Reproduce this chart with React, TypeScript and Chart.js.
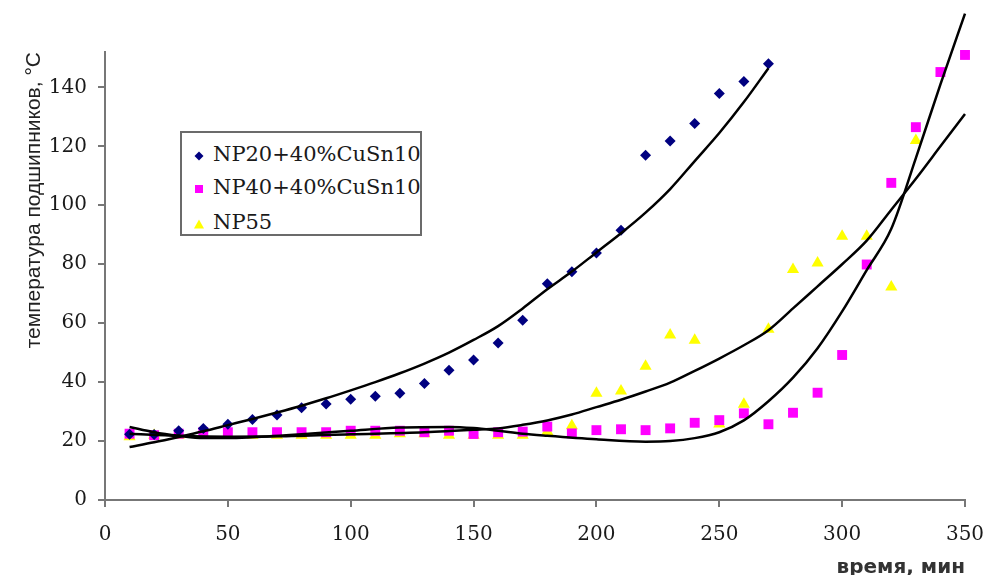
import React, { useEffect, useRef } from "react";
import { Chart, registerables } from "chart.js";

Chart.register(...registerables);

// ---- measured series ----
const timeNP20 = [10, 20, 30, 40, 50, 60, 70, 80, 90, 100, 110, 120, 130, 140, 150, 160, 170, 180, 190, 200, 210, 220, 230, 240, 250, 260, 270];
const tempNP20 = [22.3, 22.2, 23.5, 24.3, 25.7, 27.3, 28.8, 31.3, 32.6, 34.2, 35.2, 36.2, 39.5, 44, 47.5, 53.3, 61, 73.4, 77.4, 83.8, 91.5, 117, 121.8, 127.7, 137.9, 142, 148];

const timeNP40 = [10, 20, 30, 40, 50, 60, 70, 80, 90, 100, 110, 120, 130, 140, 150, 160, 170, 180, 190, 200, 210, 220, 230, 240, 250, 260, 270, 280, 290, 300, 310, 320, 330, 340, 350];
const tempNP40 = [22.5, 22, 22.5, 23, 23, 23, 23, 23, 23, 23.5, 23.5, 23.5, 23, 23.5, 22.4, 23, 23.2, 24.9, 22.6, 23.7, 24, 23.7, 24.3, 26.2, 27.1, 29.4, 25.7, 29.6, 36.4, 49.2, 79.9, 107.6, 126.5, 145.2, 151];

const timeNP55 = [10, 20, 30, 40, 50, 60, 70, 80, 90, 100, 110, 120, 130, 140, 150, 160, 170, 180, 190, 200, 210, 220, 230, 240, 250, 260, 270, 280, 290, 300, 310, 320, 330];
const tempNP55 = [21.5, 22, 22, 22, 22, 22, 22, 22, 22, 22, 22, 22.5, 22.5, 22, 22, 22, 22, 23.2, 25.2, 36.2, 37, 45.4, 56, 54.2, 25.8, 32.5, 57.9, 78.2, 80.4, 89.5, 89.5, 72.3, 122];

// ---- trend lines ----
const fitTimeNP20 = [10, 20, 30, 40, 50, 60, 70, 80, 90, 100, 110, 120, 130, 140, 150, 160, 170, 180, 190, 200, 210, 220, 230, 240, 250, 260, 270];
const fitTempNP20 = [18, 19.6, 21.4, 23.3, 25.4, 27.5, 29.7, 32, 34.5, 37.2, 40, 43, 46.3, 50, 54.3, 59, 65, 71.5, 77.5, 84, 90.5, 97.5, 105.5, 115, 124.5, 135, 146.5];

const fitTimeNP40 = [10, 20, 30, 40, 50, 60, 80, 100, 120, 140, 150, 160, 170, 180, 200, 220, 230, 240, 250, 260, 270, 280, 290, 300, 310, 320, 330, 340, 350];
const fitTempNP40 = [24.8, 23, 21.8, 21, 21, 21.3, 22.3, 23.5, 24.6, 24.8, 24.4, 23.5, 22.5, 21.8, 20.6, 19.8, 20, 21, 23, 27, 33.5, 41.5, 51.5, 64, 78, 92, 116, 141, 165];

const fitTimeNP55 = [10, 30, 50, 70, 100, 130, 150, 160, 170, 180, 190, 200, 210, 220, 230, 240, 250, 260, 270, 280, 290, 300, 310, 320, 330, 340, 350];
const fitTempNP55 = [22.5, 21.8, 21.5, 21.6, 22.3, 23, 23.8, 24.3, 25.5, 27, 29, 31.5, 34, 36.8, 39.8, 43.8, 48, 52.5, 57.6, 65, 72.5, 80, 88, 98.5, 109, 120, 131];

const seriesNames = ["NP20+40%CuSn10", "NP40+40%CuSn10", "NP55"];
const seriesColors = ["#000080", "#FF00FF", "#FFFF00"];
const xTitle = "время, мин";
const yTitle = "температура подшипников, °C";

const toPts = (xs: number[], ys: number[]) => xs.map((x, i) => ({ x, y: ys[i] }));

export default function App() {
  const ref = useRef<HTMLCanvasElement | null>(null);

  useEffect(() => {
    if (!ref.current) return;
    const trend = (xs: number[], ys: number[]) => ({
      type: "line" as const,
      data: toPts(xs, ys),
      showLine: true,
      borderColor: "#000000",
      borderWidth: 2.5,
      pointRadius: 0,
      cubicInterpolationMode: "monotone" as const,
      fill: false,
      order: 0,
      clip: false as const,
    });
    const chart = new Chart(ref.current, {
      type: "scatter",
      data: {
        datasets: [
          trend(fitTimeNP20, fitTempNP20),
          trend(fitTimeNP40, fitTempNP40),
          trend(fitTimeNP55, fitTempNP55),
          {
            label: seriesNames[0],
            data: toPts(timeNP20, tempNP20),
            pointStyle: "rectRot",
            pointRadius: 5.5,
            backgroundColor: seriesColors[0],
            borderColor: seriesColors[0],
            borderWidth: 0,
            order: 1,
            clip: false,
          },
          {
            label: seriesNames[1],
            data: toPts(timeNP40, tempNP40),
            pointStyle: "rect",
            pointRadius: 7,
            backgroundColor: seriesColors[1],
            borderColor: seriesColors[1],
            borderWidth: 0,
            order: 1,
            clip: false,
          },
          {
            label: seriesNames[2],
            data: toPts(timeNP55, tempNP55),
            pointStyle: "triangle",
            pointRadius: 7,
            backgroundColor: seriesColors[2],
            borderColor: seriesColors[2],
            borderWidth: 0,
            order: 1,
            clip: false,
          },
        ] as any,
      },
      options: {
        responsive: false,
        animation: false,
        devicePixelRatio: 1,
        layout: { padding: { top: 52, right: 19, left: 0, bottom: 0 } },
        plugins: { legend: { display: false }, tooltip: { enabled: false } },
        scales: {
          x: {
            type: "linear",
            min: 0,
            max: 350,
            afterFit: (s: any) => {
              s.height = 75;
              s.paddingRight = 0;
              s.paddingLeft = 0;
            },
            ticks: {
              stepSize: 50,
              includeBounds: false,
              padding: 16,
              color: "#1a1a1a",
              font: { family: "'DejaVu Serif'", size: 20 },
              maxRotation: 0,
            },
            grid: {
              display: true,
              drawOnChartArea: false,
              drawTicks: true,
              tickLength: 7,
              tickColor: "#777777",
              lineWidth: 2,
            },
            border: { display: true, color: "#777777", width: 2 },
            title: {
              display: true,
              text: xTitle,
              align: "end",
              color: "#333333",
              font: { family: "'DejaVu Sans'", size: 20, weight: "bold", lineHeight: 1 },
              padding: { top: 0, bottom: -3 },
            },
          },
          y: {
            type: "linear",
            min: 0,
            max: 152,
            afterFit: (s: any) => {
              s.width = 105;
              s.paddingTop = 0;
              s.paddingBottom = 0;
            },
            ticks: {
              stepSize: 20,
              includeBounds: false,
              padding: 11,
              color: "#1a1a1a",
              font: { family: "'DejaVu Serif'", size: 20 },
            },
            grid: {
              display: true,
              drawOnChartArea: false,
              drawTicks: true,
              tickLength: 7,
              tickColor: "#777777",
              lineWidth: 2,
            },
            border: { display: true, color: "#777777", width: 2 },
            title: {
              display: true,
              text: yTitle,
              align: "end",
              color: "#222222",
              font: { family: "'Liberation Sans'", size: 21, lineHeight: 1.2 },
              padding: { top: 22, bottom: 0 },
            },
          },
        },
      } as any,
    });
    return () => chart.destroy();
  }, []);

  const markers = [
    <svg width="12" height="12" key="m0"><polygon points="6,1.5 10.5,6 6,10.5 1.5,6" fill={seriesColors[0]} /></svg>,
    <svg width="12" height="12" key="m1"><rect x="2" y="2" width="8" height="8" fill={seriesColors[1]} /></svg>,
    <svg width="12" height="12" key="m2"><polygon points="6,1.5 11,10.5 1,10.5" fill={seriesColors[2]} /></svg>,
  ];
  const rowCenters = [21, 54, 89];

  return (
    <div style={{ position: "absolute", left: 0, top: 0, width: 984, height: 575, background: "#fff" }}>
      <canvas ref={ref} width={984} height={575} style={{ width: 984, height: 575, display: "block" }} />
      <div
        style={{
          position: "absolute",
          left: 180,
          top: 131,
          width: 238,
          height: 101,
          border: "2px solid #6b6b6b",
          background: "#ffffff",
        }}
      >
        {seriesNames.map((name, i) => (
          <div key={name}>
            <div style={{ position: "absolute", left: 11, top: rowCenters[i] - 6, width: 12, height: 12 }}>
              {markers[i]}
            </div>
            <span
              style={{
                position: "absolute",
                left: 31,
                top: rowCenters[i] - 12,
                fontFamily: "'DejaVu Serif'",
                fontSize: 21,
                lineHeight: "24px",
                color: "#1a1a1a",
                whiteSpace: "nowrap",
              }}
            >
              {name}
            </span>
          </div>
        ))}
      </div>
    </div>
  );
}
